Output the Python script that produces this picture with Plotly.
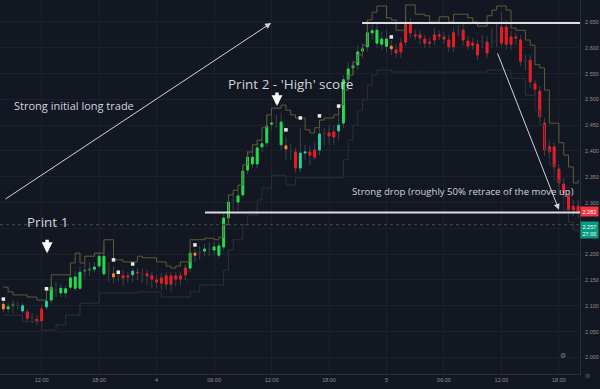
import pandas as pd
import plotly.graph_objects as go

# ---------------- data (30-minute candles) ----------------
TIMES = pd.date_range("2023-05-03 08:00", periods=121, freq="30min")

OPEN = [2.094, 2.094, 2.100, 2.100, 2.090, 2.088, 2.076, 2.074, 2.094, 2.098,
        2.111, 2.131, 2.125, 2.125, 2.136, 2.134, 2.134, 2.167, 2.169, 2.171,
        2.177, 2.162, 2.167, 2.156, 2.158, 2.158, 2.158, 2.160, 2.165, 2.160,
        2.162, 2.158, 2.150, 2.154, 2.158, 2.158, 2.158, 2.158, 2.173, 2.173,
        2.198, 2.202, 2.206, 2.208, 2.208, 2.198, 2.214, 2.270, 2.303, 2.301,
        2.315, 2.363, 2.375, 2.375, 2.408, 2.416, 2.452, 2.454, 2.412, 2.404,
        2.398, 2.398, 2.367, 2.396, 2.398, 2.402, 2.402, 2.433, 2.435, 2.437,
        2.439, 2.454, 2.539, 2.561, 2.567, 2.594, 2.602, 2.629, 2.609, 2.607,
        2.603, 2.598, 2.596, 2.609, 2.646, 2.646, 2.625, 2.625, 2.617, 2.611,
        2.625, 2.625, 2.621, 2.615, 2.629, 2.633, 2.634, 2.613, 2.609, 2.607,
        2.611, 2.611, 2.611, 2.611, 2.640, 2.640, 2.621, 2.621, 2.615, 2.574,
        2.576, 2.530, 2.516, 2.454, 2.408, 2.408, 2.365, 2.336, 2.313, 2.293,
        2.293]

HIGH = [2.109, 2.105, 2.111, 2.107, 2.105, 2.094, 2.086, 2.082, 2.102, 2.117,
        2.144, 2.146, 2.142, 2.140, 2.162, 2.167, 2.177, 2.183, 2.185, 2.185,
        2.204, 2.218, 2.185, 2.177, 2.162, 2.169, 2.165, 2.173, 2.173, 2.173,
        2.169, 2.165, 2.160, 2.164, 2.165, 2.165, 2.165, 2.165, 2.181, 2.208,
        2.210, 2.216, 2.220, 2.222, 2.224, 2.224, 2.278, 2.309, 2.319, 2.324,
        2.371, 2.400, 2.398, 2.416, 2.425, 2.470, 2.472, 2.470, 2.474, 2.427,
        2.414, 2.406, 2.445, 2.412, 2.410, 2.416, 2.460, 2.445, 2.448, 2.450,
        2.476, 2.547, 2.572, 2.576, 2.605, 2.609, 2.642, 2.646, 2.650, 2.631,
        2.634, 2.615, 2.607, 2.619, 2.665, 2.658, 2.634, 2.634, 2.625, 2.621,
        2.638, 2.634, 2.631, 2.625, 2.640, 2.644, 2.646, 2.623, 2.619, 2.615,
        2.625, 2.623, 2.638, 2.650, 2.669, 2.654, 2.633, 2.629, 2.625, 2.586,
        2.586, 2.538, 2.526, 2.464, 2.421, 2.417, 2.375, 2.348, 2.324, 2.305,
        2.305]

LOW = [2.088, 2.086, 2.086, 2.092, 2.086, 2.069, 2.067, 2.063, 2.059, 2.092,
       2.105, 2.117, 2.117, 2.115, 2.131, 2.129, 2.131, 2.154, 2.158, 2.164,
       2.173, 2.158, 2.146, 2.144, 2.146, 2.138, 2.144, 2.146, 2.150, 2.144,
       2.140, 2.134, 2.134, 2.131, 2.131, 2.127, 2.138, 2.140, 2.150, 2.165,
       2.185, 2.189, 2.196, 2.196, 2.198, 2.193, 2.208, 2.262, 2.286, 2.286,
       2.309, 2.355, 2.367, 2.367, 2.398, 2.408, 2.441, 2.445, 2.402, 2.383,
       2.383, 2.359, 2.359, 2.383, 2.373, 2.383, 2.392, 2.412, 2.412, 2.412,
       2.421, 2.445, 2.528, 2.547, 2.557, 2.580, 2.592, 2.615, 2.600, 2.596,
       2.592, 2.586, 2.580, 2.580, 2.603, 2.619, 2.615, 2.607, 2.600, 2.600,
       2.605, 2.615, 2.607, 2.592, 2.592, 2.623, 2.605, 2.596, 2.596, 2.576,
       2.600, 2.580, 2.600, 2.602, 2.603, 2.596, 2.596, 2.605, 2.565, 2.557,
       2.522, 2.508, 2.456, 2.390, 2.386, 2.359, 2.324, 2.309, 2.278, 2.274,
       2.270]

CLOSE = [2.103, 2.098, 2.103, 2.102, 2.100, 2.076, 2.078, 2.071, 2.071, 2.109,
         2.136, 2.133, 2.134, 2.133, 2.154, 2.156, 2.165, 2.169, 2.171, 2.175,
         2.196, 2.196, 2.169, 2.162, 2.160, 2.154, 2.156, 2.167, 2.164, 2.162,
         2.158, 2.152, 2.146, 2.144, 2.142, 2.142, 2.152, 2.152, 2.160, 2.202,
         2.202, 2.204, 2.210, 2.210, 2.214, 2.216, 2.270, 2.301, 2.305, 2.313,
         2.361, 2.388, 2.388, 2.406, 2.414, 2.448, 2.454, 2.456, 2.456, 2.410,
         2.400, 2.367, 2.396, 2.398, 2.392, 2.388, 2.433, 2.435, 2.429, 2.427,
         2.450, 2.538, 2.559, 2.565, 2.592, 2.598, 2.629, 2.633, 2.634, 2.617,
         2.617, 2.603, 2.590, 2.592, 2.611, 2.629, 2.623, 2.619, 2.609, 2.609,
         2.615, 2.623, 2.617, 2.602, 2.602, 2.634, 2.615, 2.603, 2.605, 2.586,
         2.613, 2.590, 2.613, 2.613, 2.609, 2.607, 2.607, 2.619, 2.574, 2.576,
         2.534, 2.520, 2.466, 2.402, 2.398, 2.369, 2.338, 2.319, 2.286, 2.286,
         2.282]

# signal colour of each candle body
SIGNAL = ("OGDKTRKRRT" "GKGGGGGDDG" "GGKOKRRTRK" "RRRRRRRRRG" "OKGKGGGGKG"
          "GGGGGGGKGO" "KRTTRRTKRR" "TGGGGGGGGG" "GORRRRRRRR" "RRRRRKRRRR"
          "KRKKRRRRRK" "RRRRRRRRRR" "R")

# white "score" dots
DOTS = [2.113, None, None, None, None, None, None, None, None, 2.133,
        None, None, None, None, None, None, None, None, None, None,
        None, None, None, 2.189, 2.165, None, None, 2.181, None, None,
        None, None, None, None, None, None, None, None, None, None,
        2.218, None, None, None, None, None, None, None, None, None,
        None, None, None, None, None, None, None, None, None, 2.441,
        None, None, 2.464, None, None, None, 2.468, None, None, None,
        2.487, None, None, None, None, None, None, None, None, None,
        None, 2.621, None, None, None, None, None, None, None, None,
        None, None, None, None, None, None, None, None, None, None,
        None, None, None, None, None, None, None, None, None, None,
        None, None, None, None, None, None, None, None, None, None,
        None]

UPPER = [2.136, 2.127, 2.121, 2.121, 2.121, 2.117, 2.117, 2.111, 2.111, 2.131,
         2.160, 2.160, 2.160, 2.160, 2.183, 2.202, 2.183, 2.196, 2.196, 2.202,
         2.202, 2.228, 2.228, 2.189, 2.189, 2.185, 2.185, 2.185, 2.196, 2.193,
         2.193, 2.193, 2.185, 2.185, 2.177, 2.173, 2.177, 2.185, 2.185, 2.228,
         2.228, 2.228, 2.231, 2.231, 2.228, 2.233, 2.257, 2.315, 2.324, 2.334,
         2.373, 2.398, 2.412, 2.421, 2.445, 2.470, 2.483, 2.483, 2.489, 2.479,
         2.470, 2.464, 2.464, 2.441, 2.435, 2.445, 2.460, 2.464, 2.464, 2.470,
         2.489, 2.518, 2.547, 2.572, 2.586, 2.605, 2.654, 2.669, 2.681, 2.681,
         2.658, 2.654, 2.634, 2.634, 2.683, 2.683, 2.665, 2.665, 2.662, 2.650,
         2.650, 2.660, 2.660, 2.650, 2.665, 2.665, 2.665, 2.658, 2.650, 2.642,
         2.642, 2.662, 2.673, 2.681, 2.681, 2.673, 2.638, 2.634, 2.634, 2.615,
         2.605, 2.567, 2.561, 2.518, 2.454, 2.454, 2.416, 2.392, 2.369, 2.338,
         2.344]

LOWER = [2.082, 2.082, 2.082, 2.082, 2.069, 2.069, 2.069, 2.069, 2.053, 2.053,
         2.053, 2.063, 2.063, 2.082, 2.082, 2.082, 2.105, 2.105, 2.105, 2.105,
         2.125, 2.125, 2.125, 2.125, 2.125, 2.125, 2.125, 2.125, 2.127, 2.127,
         2.127, 2.127, 2.127, 2.117, 2.117, 2.117, 2.117, 2.117, 2.117, 2.127,
         2.127, 2.140, 2.140, 2.140, 2.140, 2.140, 2.169, 2.208, 2.228, 2.228,
         2.257, 2.276, 2.276, 2.305, 2.328, 2.328, 2.353, 2.353, 2.353, 2.334,
         2.334, 2.348, 2.348, 2.348, 2.348, 2.348, 2.348, 2.348, 2.348, 2.348,
         2.348, 2.383, 2.421, 2.450, 2.479, 2.499, 2.528, 2.547, 2.557, 2.557,
         2.557, 2.553, 2.553, 2.553, 2.553, 2.553, 2.553, 2.553, 2.553, 2.553,
         2.553, 2.553, 2.553, 2.553, 2.553, 2.553, 2.553, 2.553, 2.553, 2.553,
         2.553, 2.557, 2.557, 2.557, 2.557, 2.557, 2.541, 2.541, 2.541, 2.508,
         2.508, 2.479, 2.450, 2.402, 2.373, 2.344, 2.315, 2.286, 2.262, 2.247,
         2.243]

PRICE_TICKS = [2.000, 2.050, 2.100, 2.150, 2.200, 2.250, 2.300, 2.350,
               2.400, 2.450, 2.500, 2.550, 2.600, 2.650]
# the 2.250 label is covered by the price badge in the original
PRICE_LABELS = ["2.000", "2.050", "2.100", "2.150", "2.200", "", "2.300", "2.350",
                "2.400", "2.450", "2.500", "2.550", "2.600", "2.650"]
TIME_TICKS = ["2023-05-03 12:00", "2023-05-03 18:00", "2023-05-04 00:00",
              "2023-05-04 06:00", "2023-05-04 12:00", "2023-05-04 18:00",
              "2023-05-05 00:00", "2023-05-05 06:00", "2023-05-05 12:00",
              "2023-05-05 18:00"]
TIME_LABELS = ["12:00", "18:00", "4", "06:00", "12:00", "18:00", "5",
               "06:00", "12:00", "18:00"]

LAST_PRICE = 2.282
OTHER_PRICE = 2.257

# ---------------- styling ----------------
BG = "#131722"
GRID = "#1c202b"
WICK = "#3d414c"
TXT = "#d1d4dc"
PALETTE = {"G": "#1fe04f", "T": "#1fd3a0", "R": "#ee1b24",
           "O": "#f7891e", "D": "#23773e", "K": "#2a2d36"}

fig = go.Figure()

fig.add_trace(go.Scatter(x=TIMES, y=LOWER, mode="lines",
                         line=dict(color="#2c303b", width=1, shape="hv"),
                         hoverinfo="skip"))
fig.add_trace(go.Scatter(x=TIMES, y=UPPER, mode="lines",
                         line=dict(color="#615c37", width=1, shape="hv"),
                         hoverinfo="skip"))

# wicks (full range) in grey
fig.add_trace(go.Candlestick(
    x=TIMES, open=OPEN, high=HIGH, low=LOW, close=CLOSE,
    increasing=dict(line=dict(color=WICK, width=1), fillcolor="rgba(0,0,0,0)"),
    decreasing=dict(line=dict(color=WICK, width=1), fillcolor="rgba(0,0,0,0)"),
    hoverinfo="skip"))

# bodies coloured by signal
for code, col in PALETTE.items():
    idx = [i for i, c in enumerate(SIGNAL) if c == code]
    if not idx:
        continue
    o = [OPEN[i] for i in idx]
    c = [CLOSE[i] for i in idx]
    fig.add_trace(go.Candlestick(
        x=[TIMES[i] for i in idx], open=o, close=c,
        high=[max(a, b) for a, b in zip(o, c)],
        low=[min(a, b) for a, b in zip(o, c)],
        increasing=dict(line=dict(color=col, width=1), fillcolor=col),
        decreasing=dict(line=dict(color=col, width=1), fillcolor=col),
        hoverinfo="skip"))

fig.add_trace(go.Scatter(x=TIMES, y=DOTS, mode="markers",
                         marker=dict(symbol="square", size=3.5, color="#ececec"),
                         hoverinfo="skip"))

# ---------------- drawings ----------------
shapes = [
    dict(type="line", xref="x", yref="y", x0="2023-05-04 21:27", x1="2023-05-05 23:00",
         y0=2.648, y1=2.648, line=dict(color="#dcdde2", width=2)),
    dict(type="line", xref="x", yref="y", x0="2023-05-04 05:03", x1="2023-05-05 23:00",
         y0=2.281, y1=2.281, line=dict(color="#dcdde2", width=2)),
    dict(type="line", xref="paper", yref="y", x0=0, x1=1, y0=OTHER_PRICE, y1=OTHER_PRICE,
         line=dict(color="#4a4e59", width=1, dash="dot")),
]

ann = [
    # long diagonal arrows
    dict(x="2023-05-04 11:57", y=2.648, ax="2023-05-03 08:04", ay=2.305,
         xref="x", yref="y", axref="x", ayref="y", text="", showarrow=True,
         arrowhead=2, arrowsize=1.2, arrowwidth=1, arrowcolor=TXT),
    dict(x="2023-05-05 18:00", y=2.286, ax="2023-05-05 11:32", ay=2.592,
         xref="x", yref="y", axref="x", ayref="y", text="", showarrow=True,
         arrowhead=2, arrowsize=1.2, arrowwidth=1, arrowcolor=TXT),
    # bold down arrows
    dict(x="2023-05-03 12:34", y=2.202, xref="x", yref="y", ax=0, ay=-15,
         text="", showarrow=True, arrowhead=2, arrowsize=0.62, arrowwidth=3.5,
         arrowcolor="#ffffff"),
    dict(x="2023-05-04 12:34", y=2.487, xref="x", yref="y", ax=0, ay=-15,
         text="", showarrow=True, arrowhead=2, arrowsize=0.62, arrowwidth=3.5,
         arrowcolor="#ffffff"),
    # texts
    dict(x=12 / 580, y=1 - 105 / 374, xref="paper", yref="paper", xanchor="left",
         yanchor="middle", text="Strong initial long trade", showarrow=False,
         font=dict(family="Open Sans", size=11, color=TXT)),
    dict(x=226 / 580, y=1 - 84 / 374, xref="paper", yref="paper", xanchor="left",
         yanchor="middle", text="Print 2 - 'High' score", showarrow=False,
         font=dict(family="Open Sans", size=13.5, color=TXT)),
    dict(x=25 / 580, y=1 - 222 / 374, xref="paper", yref="paper", xanchor="left",
         yanchor="middle", text="Print 1", showarrow=False,
         font=dict(family="Open Sans", size=13.5, color=TXT)),
    dict(x=350 / 580, y=1 - 191 / 374, xref="paper", yref="paper", xanchor="left",
         yanchor="middle", text="Strong drop (roughly 50% retrace of the move up)",
         showarrow=False, font=dict(family="Open Sans", size=9.6, color=TXT)),
    # price badges
    dict(x=1, y=LAST_PRICE, xref="paper", yref="y", xanchor="left", yanchor="middle",
         text="2.282", showarrow=False, bgcolor="#f23645", borderpad=1.5,
         font=dict(family="Liberation Sans", size=5.5, color="#ffffff")),
    dict(x=1, y=OTHER_PRICE, xref="paper", yref="y", xanchor="left", yanchor="top",
         yshift=4, text="2.257<br>27:00", showarrow=False, bgcolor="#089981",
         borderpad=1.5, font=dict(family="Liberation Sans", size=5.5, color="#ffffff")),
    # small icons
    dict(x=568 / 580, y=1 - 362 / 374, xref="paper", yref="paper", text="⚙",
         showarrow=False, font=dict(size=7, color="#787b86")),
    dict(x=592 / 580, y=1 - 382 / 374, xref="paper", yref="paper", text="⚙",
         showarrow=False, font=dict(size=6, color="#5d606b")),
]

fig.update_layout(
    width=600, height=389,
    margin=dict(l=0, r=20, t=0, b=15),
    paper_bgcolor=BG, plot_bgcolor=BG,
    showlegend=False, boxgap=0.45,
    shapes=shapes, annotations=ann,
    xaxis=dict(type="date", range=["2023-05-03 07:39", "2023-05-05 20:12"],
               rangeslider=dict(visible=False), tickvals=TIME_TICKS,
               ticktext=TIME_LABELS, showgrid=True, gridcolor=GRID, gridwidth=1,
               zeroline=False, showline=True, linecolor="#2a2e39", ticks="",
               tickfont=dict(family="Liberation Sans", size=5.5, color="#8c8f98")),
    yaxis=dict(side="right", range=[1.9678, 2.6926], tickvals=PRICE_TICKS,
               ticktext=PRICE_LABELS, showgrid=True, gridcolor=GRID, gridwidth=1,
               zeroline=False, showline=True, linecolor="#2a2e39", ticks="",
               ticklabelstandoff=3,
               tickfont=dict(family="Liberation Sans", size=5.5, color="#8c8f98")),
)

fig.write_html(
    "out.html",
    config={"displayModeBar": False},
    post_script="document.body.style.margin='0';"
                "document.body.style.background='#131722';",
)
